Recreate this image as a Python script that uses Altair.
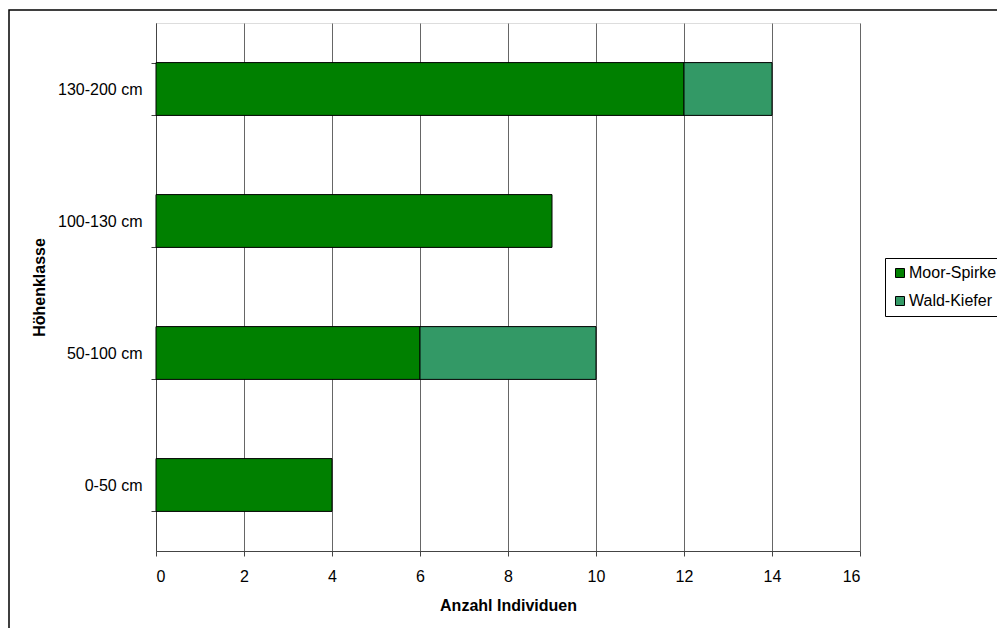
import altair as alt
import pandas as pd

categories = ["130-200 cm", "100-130 cm", "50-100 cm", "0-50 cm"]
moor_spirke = [12, 9, 6, 4]
wald_kiefer = [2, 0, 4, 0]
series = ["Moor-Spirke", "Wald-Kiefer"]
colors = ["#008000", "#339966"]
x_ticks = [0, 2, 4, 6, 8, 10, 12, 14, 16]

rows = []
for c, m, w in zip(categories, moor_spirke, wald_kiefer):
    rows.append({"Höhenklasse": c, "Art": series[0], "Anzahl": m, "ord": 0})
    rows.append({"Höhenklasse": c, "Art": series[1], "Anzahl": w, "ord": 1})
df = pd.DataFrame(rows)
df = df[df["Anzahl"] > 0]

FONT = "Liberation Sans"
FS = 16

bars = alt.Chart(df).mark_bar(stroke="black", strokeWidth=1).encode(
    x=alt.X("Anzahl:Q", stack="zero",
            scale=alt.Scale(domain=[0, 16], nice=False),
            axis=alt.Axis(values=x_ticks, title="Anzahl Individuen", grid=True,
                          gridColor="#666666", gridOpacity=1, gridWidth=1,
                          domainColor="#444444", tickColor="#444444", tickSize=5,
                          labelPadding=12, titlePadding=13, labelFontSize=FS,
                          titleFontSize=FS, titleFontWeight="bold", labelFont=FONT,
                          titleFont=FONT, labelColor="black", titleColor="black")),
    y=alt.Y("Höhenklasse:N", sort=categories,
            scale=alt.Scale(paddingInner=0.6, paddingOuter=0.3),
            axis=alt.Axis(title="Höhenklasse", tickBand="extent", grid=False,
                          domainColor="#444444", tickColor="#444444", tickSize=5,
                          labelPadding=9, titlePadding=10, labelFontSize=FS,
                          titleFontSize=FS, titleFontWeight="bold", labelFont=FONT,
                          titleFont=FONT, labelColor="black", titleColor="black")),
    color=alt.Color("Art:N", scale=alt.Scale(domain=series, range=colors),
                    legend=alt.Legend(title=None, orient="none", legendX=729, legendY=235,
                                      symbolType="square", symbolSize=81,
                                      symbolStrokeColor="black", symbolStrokeWidth=1,
                                      labelFont=FONT, labelFontSize=FS, labelColor="black",
                                      strokeColor="black", padding=7, rowPadding=12,
                                      labelOffset=1)),
    order=alt.Order("ord:Q"),
)

frame = alt.Chart(pd.DataFrame({"a": [0]})).mark_rect(
    fill=None, stroke="black", strokeWidth=1.5, clip=False
).encode(
    x=alt.value(-147), x2=alt.value(900), y=alt.value(-13), y2=alt.value(700)
)

chart = alt.layer(frame, bars).properties(
    width=704, height=528,
    autosize=alt.AutoSizeParams(type="none"),
    padding={"left": 156, "top": 23, "right": 137, "bottom": 77},
).configure_view(stroke=None).configure(background="white")

chart.save("out.html", embed_options={"renderer": "svg", "actions": False})
